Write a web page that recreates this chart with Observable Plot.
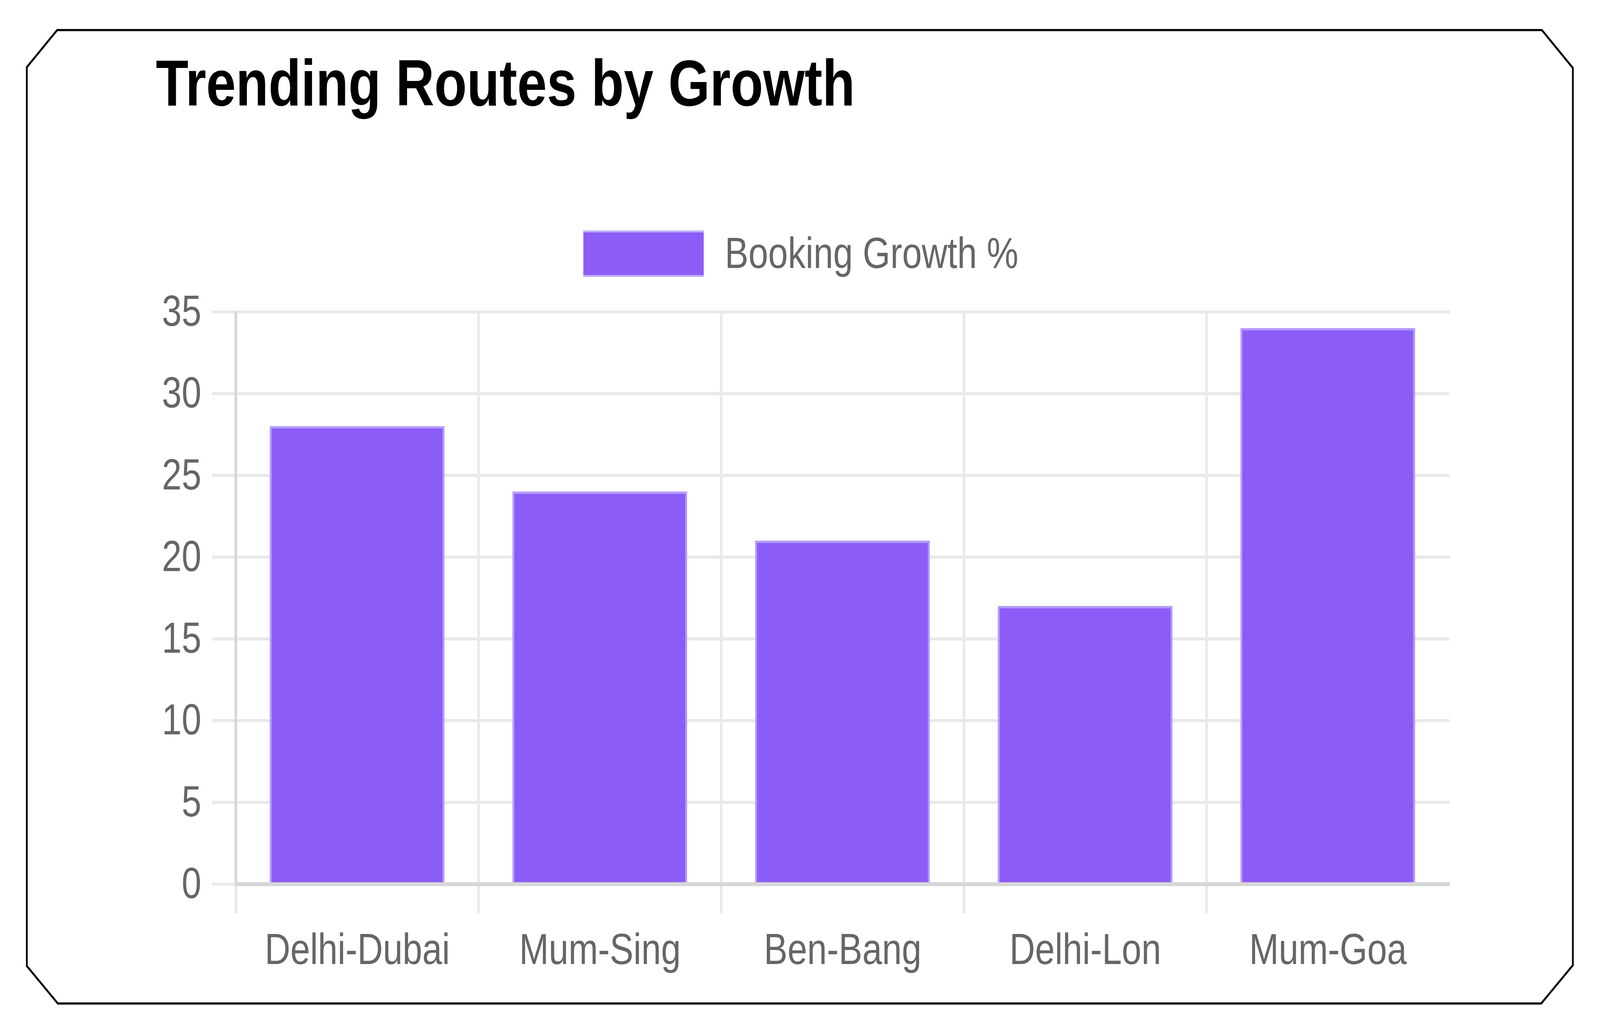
<!DOCTYPE html>
<html>
<head>
<meta charset="utf-8">
<script src="https://cdn.jsdelivr.net/npm/d3@7"></script>
<script src="https://cdn.jsdelivr.net/npm/@observablehq/plot@0.6"></script>
<style>
  html, body { margin: 0; padding: 0; background: #ffffff; overflow: hidden; }
  #page { position: absolute; left: 0; top: 0; width: 5011px; height: 2642px; transform-origin: 0 0; background: #ffffff; font-family: "Liberation Sans", Arial, Helvetica, sans-serif; }
  #frame { position: absolute; left: 0; top: 0; z-index: 3; pointer-events: none; }
  #title { position: absolute; left: 488px; top: 129px; font-size: 167px; line-height: 1; font-weight: bold; color: #000; white-space: nowrap; z-index: 2; }
  #legend-swatch { position: absolute; left: 1827px; top: 590px; width: 377px; height: 119px; box-sizing: border-box; background: #8b5cf6; border-top: 5px solid #c3aff8; border-bottom: 5px solid #c3aff8; z-index: 2; }
  #legend-text { position: absolute; left: 2270px; top: 593px; font-size: 111px; line-height: 1; color: #666; white-space: nowrap; z-index: 2; }
  #chart { position: absolute; left: 0; top: 700px; z-index: 1; }
</style>
</head>
<body>
<div id="page">
  <svg id="frame" width="5011" height="2642">
    <polygon points="84,172 179,77 4829,77 4926,174 4926,2471 4827,2569 181,2569 84,2473" fill="none" stroke="#000" stroke-width="5.5" stroke-linejoin="miter"/>
  </svg>
  <div id="title"></div>
  <div id="legend-swatch"></div>
  <div id="legend-text"></div>
  <div id="chart"></div>
</div>
<script>
const titleText = "Trending Routes by Growth";
const seriesName = "Booking Growth %";
const routes = ["Delhi-Dubai", "Mum-Sing", "Ben-Bang", "Delhi-Lon", "Mum-Goa"];
const growth = [28, 24, 21, 17, 34];
const yTicks = [0, 5, 10, 15, 20, 25, 30, 35];

document.getElementById("title").textContent = titleText;
document.getElementById("legend-text").textContent = seriesName;

// fit the 5011x2642 design into the actual viewport
const DW = 5011, DH = 2642;
const sx = window.innerWidth / DW, sy = window.innerHeight / DH;
document.getElementById("page").style.transform = `scale(${sx}, ${sy})`;

const data = routes.map((r, i) => ({route: r, growth: growth[i]}));

const W = 5011, H = 1900;
const mL = 737, mR = 471, mT = 98, mB = 337;
const step = (W - mL - mR) / routes.length;

const barFill = "#8b5cf6";
const barBorder = "#b39cf9";
const gridColor = "#e9e9e9";
const borderColor = "#d6d6d6";
const lineW = 8;

const plot = Plot.plot({
  width: W,
  height: H,
  marginLeft: mL,
  marginRight: mR,
  marginTop: mT,
  marginBottom: mB,
  style: {
    background: "transparent",
    maxWidth: "none",
    color: "#666",
    fontFamily: "'Liberation Sans', Arial, Helvetica, sans-serif",
    fontSize: "111px"
  },
  x: {type: "band", domain: routes, paddingInner: 0.28, paddingOuter: 0.14, label: null},
  y: {domain: [0, 35], label: null},
  marks: [
    Plot.ruleY(yTicks.filter(d => d > 0), {stroke: gridColor, strokeWidth: lineW}),
    Plot.ruleX(routes, {x: d => d, dx: -step / 2, insetBottom: -75, stroke: gridColor, strokeWidth: lineW}),
    Plot.axisY({ticks: yTicks, tickSize: 73, tickPadding: 34, stroke: gridColor, strokeWidth: lineW, tickFormat: d => String(d), label: null}),
    Plot.barY(data, {x: "route", y: "growth", fill: barBorder}),
    Plot.barY(data, {x: "route", y: "growth", fill: barFill, insetTop: 6, insetLeft: 6, insetRight: 6}),
    Plot.ruleX([routes[0]], {x: d => d, dx: -step / 2, stroke: borderColor, strokeWidth: lineW}),
    Plot.ruleY([0], {stroke: borderColor, strokeWidth: lineW + 2}),
    Plot.axisX({tickSize: 0, tickPadding: 126, label: null})
  ]
});
document.getElementById("chart").appendChild(plot);
</script>
</body>
</html>
